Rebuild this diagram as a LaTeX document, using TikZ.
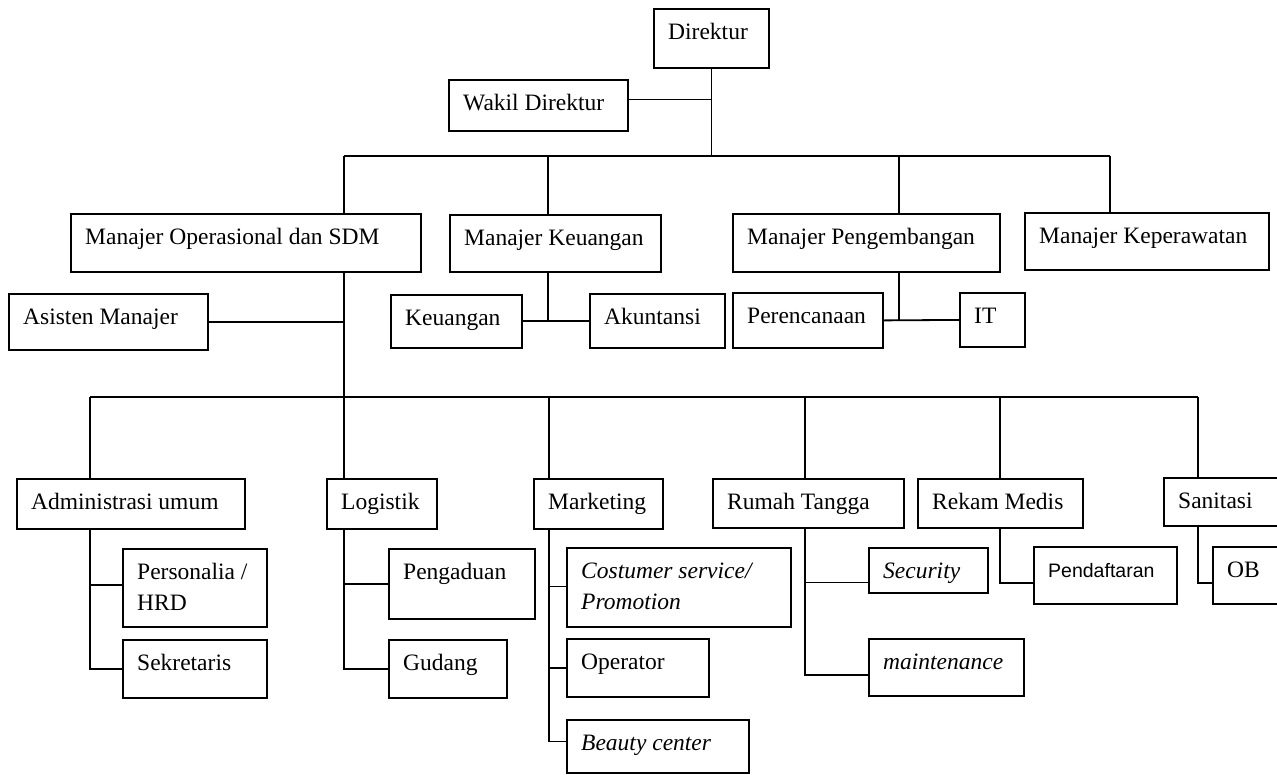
\documentclass[tikz,border=0pt]{standalone}
\usepackage{fontspec}
\setmainfont{Liberation Serif}
\newfontfamily\pendfont{Liberation Sans}
\usetikzlibrary{calc}
\tikzset{
  box/.style={draw, line width=1.8pt, inner sep=0pt, anchor=north west},
  lbl/.style={inner sep=0pt, anchor=base west, font=\fontsize{23.5}{31}\selectfont, align=left},
  conn/.style={line width=1.8pt},
}
% one-line box: name x y w h text
\newcommand\bx[6]{%
  \node[box, minimum width=#4pt, minimum height=#5pt] (#1) at (#2,#3) {};
  \node[lbl] (#1-t) at ([xshift=15pt,yshift=-31pt]#1.north west) {#6};
}
% two-line box: the base of the node is its last line
\newcommand\bxx[6]{%
  \node[box, minimum width=#4pt, minimum height=#5pt] (#1) at (#2,#3) {};
  \node[lbl] (#1-t) at ([xshift=15pt,yshift=-62pt]#1.north west) {#6};
}
\begin{document}
\begin{tikzpicture}[x=1pt,y=-1pt]
\useasboundingbox (0,0) rectangle (1277,774);
\clip (0,0) rectangle (1277,774);
\fill[white] (0,0) rectangle (1277,774);
% level 0/1
\bx{direktur}{653}{8}{115}{59}{Direktur}
\bx{wakil}{448}{79}{179}{51}{Wakil Direktur}
% managers
\bx{mops}{70}{213}{350}{58}{Manajer Operasional dan SDM}
\bx{mkeu}{449}{214}{211}{57}{Manajer Keuangan}
\bx{mpeng}{732}{213}{267}{58}{Manajer Pengembangan}
\bx{mkep}{1024}{212}{244}{57}{Manajer Keperawatan}
\bx{asisten}{8}{293}{199}{56}{Asisten Manajer}
\bx{keuangan}{390}{294}{131}{53}{Keuangan}
\bx{akuntansi}{589}{293}{135}{54}{Akuntansi}
\bx{perencanaan}{732}{292}{150}{55}{Perencanaan}
\bx{it}{959}{292}{65}{54}{IT}
% units
\bx{admin}{16}{478}{228}{50}{Administrasi umum}
\bx{logistik}{326}{478}{110}{50}{Logistik}
\bx{marketing}{533}{478}{129}{50}{Marketing}
\bx{rumah}{712}{478}{191}{49}{Rumah Tangga}
\bx{rekam}{917}{478}{165}{49}{Rekam Medis}
\bx{sanitasi}{1163}{477}{140}{48}{Sanitasi}
% sub units
\bxx{personalia}{122}{548}{144}{78}{Personalia /\\HRD}
\bx{sekretaris}{122}{639}{144}{58}{Sekretaris}
\bx{pengaduan}{388}{548}{146}{70}{Pengaduan}
\bx{gudang}{388}{639}{118}{58}{Gudang}
\bxx{costumer}{566}{547}{224}{79}{\itshape Costumer service/\\\itshape Promotion}
\bx{operator}{566}{638}{142}{58}{Operator}
\bx{beauty}{566}{719}{182}{53}{\itshape Beauty center}
\bx{security}{868}{547}{119}{45}{\itshape Security}
\bx{maintenance}{868}{638}{155}{57}{\itshape maintenance}
\bx{pendaftaran}{1033}{546}{143}{57}{\pendfont\fontsize{19.5}{24}\selectfont Pendaftaran}
\bx{ob}{1212}{546}{80}{57}{OB}
% top connectors
\coordinate (bus1L) at (344,156);
\coordinate (bus1R) at (1110,156);
\coordinate (d2) at (548,156);
\coordinate (d3) at (899,156);
\draw[conn] (bus1L) -- (bus1R);
\draw[conn] (direktur.south) -- (direktur.south |- bus1L);
\draw[conn] ([yshift=6pt]wakil.east) -- ([yshift=6pt]wakil.east -| direktur.south);
\draw[conn] (bus1L) -- (bus1L |- mops.north);
\draw[conn] (d2) -- (d2 |- mkeu.north);
\draw[conn] (d3) -- (d3 |- mpeng.north);
\draw[conn] (bus1R) -- (bus1R |- mkep.north);
% trunk
\draw[conn] (mops.south -| bus1L) -- (logistik.north -| bus1L);
\draw[conn] (asisten.east) -- (asisten.east -| bus1L);
\draw[conn] (mkeu.south -| d2) -- (akuntansi.west -| d2);
\draw[conn] (keuangan.east |- akuntansi.west) -- (akuntansi.west);
\draw[conn] (mpeng.south -| d3) -- (perencanaan.east -| d3);
\draw[conn] (perencanaan.east) -- (it.west);
% second bus
\coordinate (bus2L) at (90,397);
\coordinate (bus2R) at (1198,397);
\coordinate (e3) at (549,397);
\coordinate (e4) at (805,397);
\coordinate (e5) at (1000,397);
\draw[conn] (bus2L) -- (bus2R);
\draw[conn] (bus2L) -- (bus2L |- admin.north);
\draw[conn] (e3) -- (e3 |- marketing.north);
\draw[conn] (e4) -- (e4 |- rumah.north);
\draw[conn] (e5) -- (e5 |- rekam.north);
\draw[conn] (bus2R) -- (bus2R |- sanitasi.north);
% children
\draw[conn] (admin.south -| bus2L) |- ([yshift=3pt]personalia.west);
\draw[conn] (admin.south -| bus2L) |- (sekretaris.west);
\draw[conn] (logistik.south -| bus1L) |- (pengaduan.west);
\draw[conn] (logistik.south -| bus1L) |- (gudang.west);
\draw[conn] (marketing.south -| e3) |- ([yshift=1pt]costumer.west);
\draw[conn] (marketing.south -| e3) |- (operator.west);
\draw[conn] (marketing.south -| e3) |- ([yshift=5pt]beauty.west);
\draw[conn] (rumah.south -| e4) |- ([yshift=-12pt]security.west);
\draw[conn] (rumah.south -| e4) |- ([yshift=-7.5pt]maintenance.west);
\draw[conn] (rekam.south -| e5) |- ([yshift=-7.5pt]pendaftaran.west);
\draw[conn] (sanitasi.south -| bus2R) |- ([yshift=-7.5pt]ob.west);
\end{tikzpicture}
\end{document}
